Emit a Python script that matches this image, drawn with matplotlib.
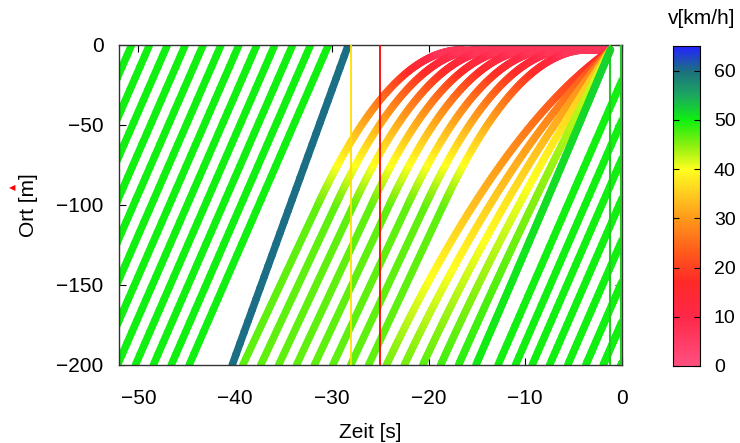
import numpy as np
import matplotlib
matplotlib.use("Agg")
import matplotlib.pyplot as plt
from matplotlib.collections import LineCollection
from matplotlib.colors import LinearSegmentedColormap, Normalize

# ---------------- data ----------------
# free-flowing cars (green, straight): time [s] at which they cross y = 0
cruise_cross_times = [-50.7, -48.85, -47.0, -45.15, -43.3, -41.45,
                      -39.6, -37.75, -35.9, -34.05, -32.2, -30.35]
cruise_speed_kmh = 50.0

# fast car (blue): times at y = -200 and y = 0
blue_times = [-40.3, -28.3]
blue_pos = [-200.0, 0.0]

# cars that brake to a stop before the light: time at y = -200
stop_entry_times = [-39.2, -37.35, -35.5, -33.65, -31.8, -29.9, -28.05, -26.2]
stop_entry_speed_kmh = 46.5
stop_brake_dist_m = 96.0          # distance before the stop point where braking starts
queue_pos = -3.0                  # where the queue waits
queue_colour_kmh = 7.0            # colour of the waiting band

# cars that brake only partly and reach the line when it turns green
fan_entry_times = [-24.35, -22.5, -20.6, -18.75, -16.9, -15.1]
fan_entry_speeds_kmh = [46.0, 46.0, 47.0, 48.0, 49.0, 50.0]
fan_arrival_time = -1.2

# late cars (green, straight): position [m] at t = 0
late_pos_at_zero = [-22, -47, -71, -96, -122, -148, -173, -199]

# signal changes [s]
yellow_time = -28.05
red_time = -25.0
green_times = [-1.2, -0.1]

cbar_ticks = [0, 10, 20, 30, 40, 50, 60]
xticks = [-50, -40, -30, -20, -10, 0]
yticks = [0, -50, -100, -150, -200]

# ---------------- colours ----------------
palette_nodes = [
    (0.0, "#ff5080"), (10.0, "#ff2848"), (17.0, "#ff2a28"), (23.0, "#ff5a1c"),
    (30.0, "#ff9a1a"), (35.0, "#ffcc20"), (40.0, "#ffff20"), (45.0, "#88f010"),
    (50.0, "#10f010"), (55.0, "#1ca860"), (60.0, "#1c7080"), (65.0, "#2424ff"),
]
vmax = 65.0
cmap = LinearSegmentedColormap.from_list(
    "traffic", [(v / vmax, c) for v, c in palette_nodes])
norm = Normalize(0, vmax)

FONT = ["Liberation Sans", "DejaVu Sans"]
plt.rcParams["font.family"] = FONT

fig = plt.figure(figsize=(7.4, 4.43), dpi=100)
ax = fig.add_axes([119 / 740, 78 / 443, 503 / 740, 320 / 443])
cax = fig.add_axes([673 / 740, 77 / 443, 27 / 740, 320 / 443])

LW = 5.4


def add_path(t, y, v_kmh):
    pts = np.column_stack([t, y])
    segs = np.stack([pts[:-1], pts[1:]], axis=1)
    v_kmh = np.asarray(v_kmh, dtype=float)
    vm = 0.5 * (v_kmh[:-1] + v_kmh[1:])
    lc = LineCollection(segs, colors=cmap(norm(vm)), linewidths=LW,
                        capstyle="round", joinstyle="round", zorder=2)
    ax.add_collection(lc)


def straight(t0, y0, t1, y1):
    v = abs(y1 - y0) / (t1 - t0) * 3.6
    add_path(np.linspace(t0, t1, 30), np.linspace(y0, y1, 30), np.full(30, v))


v_free = cruise_speed_kmh / 3.6
for tc in cruise_cross_times:
    straight(tc - 200 / v_free, -200.0, tc, 0.0)

straight(blue_times[0], blue_pos[0], blue_times[1], blue_pos[1])

# cars stopping at the queue
v0 = stop_entry_speed_kmh / 3.6
acc = v0 ** 2 / (2 * stop_brake_dist_m)
for te in stop_entry_times:
    d_cruise = (queue_pos - stop_brake_dist_m) - (-200.0)
    t_b = te + d_cruise / v0
    tau = np.linspace(0, v0 / acc, 120)
    t = np.concatenate([[te], t_b + tau])
    y = np.concatenate([[-200.0], queue_pos - stop_brake_dist_m + v0 * tau - 0.5 * acc * tau ** 2])
    v = np.concatenate([[v0], v0 - acc * tau]) * 3.6
    v = np.maximum(v, queue_colour_kmh)
    if t[-1] < fan_arrival_time:
        t = np.append(t, fan_arrival_time)
        y = np.append(y, queue_pos)
        v = np.append(v, queue_colour_kmh)
    add_path(t, y, v)

# cars braking gently and arriving at the green
D = queue_pos - (-200.0)
for te, vk in zip(fan_entry_times, fan_entry_speeds_kmh):
    vf0 = vk / 3.6
    T = fan_arrival_time - te
    ve = 2 * D / T - vf0
    a = (vf0 - ve) / T
    tau = np.linspace(0, T, 120)
    t = te + tau
    y = -200.0 + vf0 * tau - 0.5 * a * tau ** 2
    v = (vf0 - a * tau) * 3.6
    add_path(t, y, v)

for p in late_pos_at_zero:
    straight(0 - (p + 200) / v_free, -200.0, 0.0, p)

# signal lines
ax.axvline(yellow_time, color="#ffe000", lw=1.3, zorder=3)
ax.axvline(red_time, color="#ff0000", lw=1.3, zorder=3)
for g in green_times:
    ax.axvline(g, color="#22cc22", lw=1.5, zorder=3)

ax.set_xlim(-52, 0)
ax.set_ylim(-200, 0)
ax.set_xticks(xticks)
ax.set_yticks(yticks)
ax.set_xticklabels(["\u221250", "\u221240", "\u221230", "\u221220", "\u221210", "0"])
ax.set_yticklabels(["0", "\u221250", "\u2212100", "\u2212150", "\u2212200"])
ax.tick_params(direction="in", top=True, right=True, length=5, width=0.8,
               labelsize=15)
ax.tick_params(axis="x", pad=17)
ax.tick_params(axis="y", pad=11)
for s in ax.spines.values():
    s.set_linewidth(1.0)
    s.set_color("#333333")
ax.set_xlabel("Zeit [s]", fontsize=15, labelpad=11)
ax.set_ylabel("Ort [m]", fontsize=15, labelpad=13)

# little red marker next to the y label
fig.text(12 / 740, 1 - 188 / 443, "\u25c0", color="red", fontsize=6,
         ha="center", va="center", family=["DejaVu Sans"])

# colour bar
grad = np.linspace(0, vmax, 256).reshape(-1, 1)
cax.imshow(grad, aspect="auto", cmap=cmap, norm=norm, origin="lower",
           extent=[0, 1, 0, vmax])
cax.set_xlim(0, 1)
cax.set_ylim(0, vmax)
cax.set_xticks([])
cax.set_yticks(cbar_ticks)
cax.yaxis.tick_right()
cax.tick_params(axis="y", direction="in", left=True, right=True, length=4,
                labelsize=14, pad=10)
for s in cax.spines.values():
    s.set_linewidth(0.8)
fig.text(702 / 740, 1 - 18 / 443, "v[km/h]", fontsize=15, ha="center",
         va="center")

fig.savefig("out.png", dpi=100)
